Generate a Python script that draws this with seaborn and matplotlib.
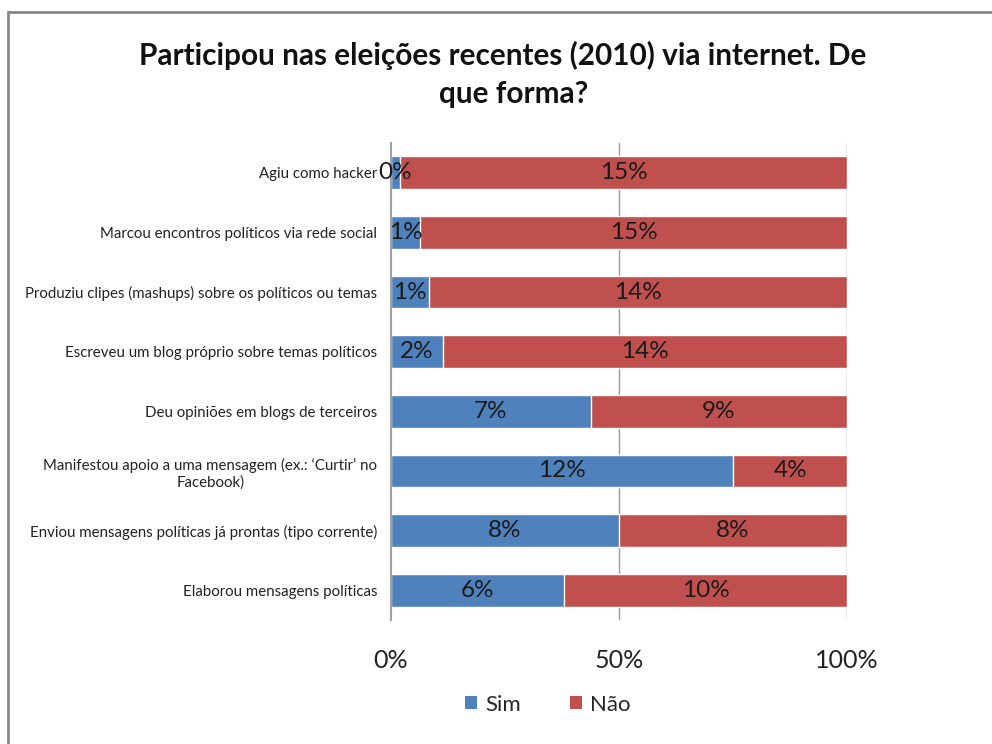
import matplotlib
matplotlib.use("Agg")
import matplotlib.pyplot as plt
import seaborn as sns
import pandas as pd
from matplotlib.patches import Patch
from matplotlib.lines import Line2D

sns.set_theme(style="white")
plt.rcParams["font.family"] = ["Lato", "DejaVu Sans"]

categories = [
    "Agiu como hacker",
    "Marcou encontros políticos via rede social",
    "Produziu clipes (mashups) sobre os políticos ou temas",
    "Escreveu um blog próprio sobre temas políticos",
    "Deu opiniões em blogs de terceiros",
    "Manifestou apoio a uma mensagem (ex.: ‘Curtir’ no\nFacebook)",
    "Enviou mensagens políticas já prontas (tipo corrente)",
    "Elaborou mensagens políticas",
]
sim = [0.3, 1.0, 1.3, 1.8, 7.0, 12.0, 8.0, 6.1]
nao = [15.0, 14.8, 14.3, 14.1, 9.0, 4.0, 8.0, 10.0]
x_ticks = [0, 50, 100]
x_tick_labels = ["0%", "50%", "100%"]

BLUE = "#4F81BD"
RED = "#C0504D"

df = pd.DataFrame({"cat": categories, "sim": sim, "nao": nao})
df["total"] = df["sim"] + df["nao"]
df["sim_share"] = df["sim"] / df["total"] * 100
df["full"] = 100.0

fig = plt.figure(figsize=(9.92, 7.44), dpi=100)
ax = fig.add_axes([0.3942, 0.1667, 0.4597, 0.6411])

sns.barplot(data=df, y="cat", x="full", color=RED, orient="h", width=0.55,
            saturation=1, ax=ax, zorder=3)
sns.barplot(data=df, y="cat", x="sim_share", color=BLUE, orient="h", width=0.55,
            saturation=1, ax=ax, zorder=4)

for i, row in df.iterrows():
    ax.text(row["sim_share"] / 2, i, f"{row['sim']:.0f}%", ha="center", va="center",
            fontsize=17.5, color="#1a1a1a", zorder=8, clip_on=False)
    ax.text(row["sim_share"] + (100 - row["sim_share"]) / 2, i, f"{row['nao']:.0f}%",
            ha="center", va="center", fontsize=17.5, color="#1a1a1a", zorder=8)

ax.set_xlim(0, 100)
ax.set_ylim(7.5, -0.5)
ax.set_xticks(x_ticks)
ax.set_xticklabels(x_tick_labels, fontsize=18, color="#222222")
ax.tick_params(axis="x", length=0, pad=21)
ax.set_yticks(range(len(categories)))
ax.set_yticklabels(categories, fontsize=10.8, color="#222222", multialignment="center")
ax.tick_params(axis="y", length=0, pad=10)
ax.set_xlabel("")
ax.set_ylabel("")

for x in (50, 100):
    ax.axvline(x, color="#999999", lw=1.0, zorder=1)
for s in ("top", "right", "bottom"):
    ax.spines[s].set_visible(False)
ax.spines["left"].set_color("#a0a0a0")
ax.spines["left"].set_linewidth(1.5)
ax.spines["left"].set_zorder(6)

fig.text(0.507, 0.925, "Participou nas eleições recentes (2010) via internet. De",
         ha="center", va="center", fontsize=21.4, fontweight="bold", color="#111111")
fig.text(0.518, 0.873, "que forma?", ha="center", va="center", fontsize=21.4,
         fontweight="bold", color="#111111")

handles = [Patch(facecolor=BLUE, edgecolor="none", label="Sim"),
           Patch(facecolor=RED, edgecolor="none", label="Não")]
fig.legend(handles=handles, loc="center", bbox_to_anchor=(0.552, 0.053), ncol=2,
           frameon=False, fontsize=16, handlelength=0.55, handleheight=0.55,
           handletextpad=0.35, columnspacing=2.2)

# chart area frame
fig.add_artist(Line2D([8 / 992, 1.0], [1 - 12 / 744, 1 - 12 / 744],
                      transform=fig.transFigure, color="#888888", lw=2))
fig.add_artist(Line2D([8 / 992, 8 / 992], [0.0, 1 - 12 / 744],
                      transform=fig.transFigure, color="#888888", lw=2))

fig.savefig("out.png", dpi=100)
